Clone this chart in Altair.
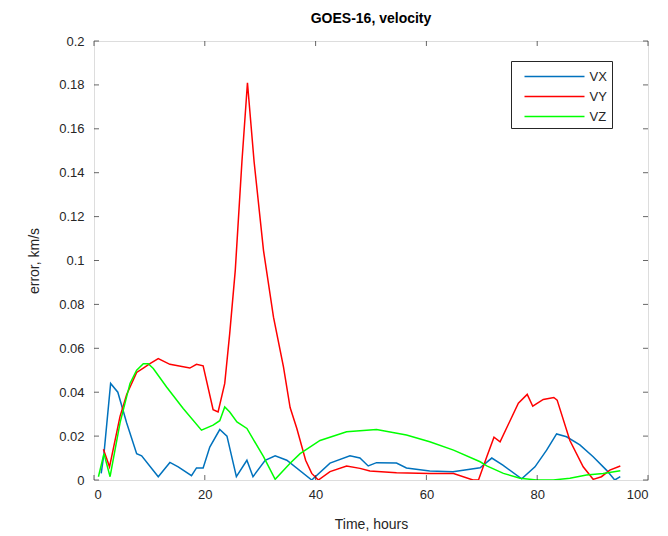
import altair as alt
import pandas as pd

# ---- data ----
vx_hours = [1.3, 1.8, 3.0, 4.3, 5.9, 7.7, 8.6, 11.6, 13.7, 15.2, 17.6, 18.5, 19.7, 20.9, 22.7, 24.0,
            25.7, 27.6, 28.7, 30.9, 32.7, 34.8, 39.3, 42.6, 46.2, 48.0, 49.5, 51.0, 54.6, 56.4,
            60.6, 64.8, 69.7, 71.8, 73.8, 77.2, 79.6, 81.7, 83.5, 85.3, 87.7, 90.1, 92.5, 94.0, 95.0]
vx_vals = [0.003, 0.012, 0.044, 0.040, 0.026, 0.012, 0.011, 0.0015, 0.008, 0.006, 0.002, 0.0055,
           0.0055, 0.015, 0.023, 0.020, 0.0015, 0.009, 0.0015, 0.009, 0.011, 0.009, 0.0, 0.0077,
           0.011, 0.010, 0.0064, 0.0079, 0.0077, 0.0055, 0.0041, 0.0038, 0.0056, 0.010, 0.0068,
           0.0005, 0.006, 0.0136, 0.021, 0.0197, 0.016, 0.0106, 0.0045, 0.0, 0.0015]

vy_hours = [1.7, 2.8, 4.7, 5.9, 7.7, 8.9, 10.1, 11.6, 13.7, 17.3, 18.5, 19.7, 21.5, 22.4, 23.6,
            24.5, 25.5, 26.7, 27.7, 28.9, 30.6, 32.4, 34.2, 35.4, 36.6, 38.2, 39.3, 40.5, 42.6,
            45.6, 48.0, 49.8, 54.6, 60.6, 64.9, 68.4, 69.4, 70.9, 72.2, 73.3, 75.1, 76.6, 78.2,
            79.2, 81.1, 83.0, 83.6, 85.9, 88.3, 90.1, 91.6, 93.1, 95.0]
vy_vals = [0.014, 0.006, 0.029, 0.039, 0.049, 0.051, 0.053, 0.0553, 0.0527, 0.051, 0.0527, 0.052,
           0.032, 0.031, 0.044, 0.0668, 0.0955, 0.145, 0.181, 0.145, 0.1045, 0.0742, 0.0515,
           0.033, 0.0236, 0.009, 0.003, 0.0, 0.0038, 0.0064, 0.0053, 0.0041, 0.0033, 0.003,
           0.003, 0.0, 0.0, 0.0106, 0.0195, 0.0174, 0.027, 0.035, 0.039, 0.0336, 0.0367, 0.0376,
           0.0364, 0.018, 0.006, 0.0003, 0.0015, 0.0045, 0.0064]

vz_hours = [0.8, 1.8, 2.9, 4.7, 6.5, 7.7, 8.9, 9.8, 10.7, 13.1, 16.1, 19.4, 21.5, 22.7, 23.6,
            24.5, 25.8, 27.6, 30.6, 32.7, 35.4, 37.2, 40.8, 45.6, 51.0, 56.4, 60.6, 64.9, 69.7,
            70.9, 73.9, 76.9, 79.9, 82.9, 85.9, 88.9, 91.9, 95.0]
vz_vals = [0.0015, 0.012, 0.0015, 0.026, 0.044, 0.050, 0.053, 0.053, 0.0508, 0.0424, 0.0326,
           0.0227, 0.025, 0.027, 0.0333, 0.031, 0.0265, 0.0235, 0.0106, 0.0003, 0.0076, 0.012,
           0.018, 0.022, 0.023, 0.0205, 0.0174, 0.0136, 0.0083, 0.0064, 0.003, 0.0008, 0.0, 0.0,
           0.0008, 0.0023, 0.003, 0.0042]

series_names = ["VX", "VY", "VZ"]
series_colors = ["#0072BD", "#FF0000", "#00FF00"]
x_ticks = [0, 20, 40, 60, 80, 100]
y_ticks = [0, 0.02, 0.04, 0.06, 0.08, 0.1, 0.12, 0.14, 0.16, 0.18, 0.2]

rows = []
for name, hs, vs in zip(series_names, [vx_hours, vy_hours, vz_hours], [vx_vals, vy_vals, vz_vals]):
    for i, (h, v) in enumerate(zip(hs, vs)):
        rows.append({"series": name, "hour": h, "err": v, "idx": i})
df = pd.DataFrame(rows)
xt = pd.DataFrame({"hour": x_ticks})
yt = pd.DataFrame({"err": y_ticks})

W, H = 554, 439
FONT = "Liberation Sans"
DARK = "#262626"

xscale = alt.Scale(domain=[0, 100], nice=False, zero=False)
yscale = alt.Scale(domain=[0, 0.2], nice=False)

xaxis = alt.Axis(values=x_ticks, format="d", ticks=False, domain=False, grid=False,
                 labelPadding=8, titlePadding=16, labelFontSize=13, titleFontSize=14,
                 labelColor=DARK, titleColor=DARK, labelFont=FONT, titleFont=FONT,
                 titleFontWeight="normal")
yaxis = alt.Axis(values=y_ticks, format="~g", ticks=False, domain=False, grid=False,
                 labelPadding=10, titlePadding=17, labelFontSize=13, titleFontSize=14,
                 labelColor=DARK, titleColor=DARK, labelFont=FONT, titleFont=FONT,
                 titleFontWeight="normal")

lines = alt.Chart(df).mark_line(strokeWidth=1.5, clip=True).encode(
    x=alt.X("hour:Q", scale=xscale, axis=xaxis, title="Time, hours"),
    y=alt.Y("err:Q", scale=yscale, axis=yaxis, title="error, km/s"),
    color=alt.Color("series:N",
                    scale=alt.Scale(domain=series_names, range=series_colors),
                    legend=alt.Legend(title=None, orient="none", legendX=417, legendY=20,
                                      strokeColor=DARK, fillColor="white", padding=4.5,
                                      symbolType="M-3,0H3", symbolSize=400,
                                      symbolStrokeWidth=1.5, symbolOffset=28,
                                      labelOffset=24, rowPadding=2,
                                      labelExpr="datum.label + '\u00a0\u00a0\u00a0'",
                                      labelFontSize=13, labelFont=FONT, labelColor=DARK)),
    order="idx:Q",
)

tick_x_bottom = alt.Chart(xt).mark_tick(size=5, thickness=1, color=DARK).encode(
    x=alt.X("hour:Q", scale=xscale, title="Time, hours"), y=alt.value(H - 2.5))
tick_x_top = alt.Chart(xt).mark_tick(size=5, thickness=1, color=DARK).encode(
    x=alt.X("hour:Q", scale=xscale, title="Time, hours"), y=alt.value(2.5))
tick_y_left = alt.Chart(yt).mark_tick(size=5, thickness=1, color=DARK).encode(
    y=alt.Y("err:Q", scale=yscale, title="error, km/s"), x=alt.value(2.5))
tick_y_right = alt.Chart(yt).mark_tick(size=5, thickness=1, color=DARK).encode(
    y=alt.Y("err:Q", scale=yscale, title="error, km/s"), x=alt.value(W - 2.5))

chart = alt.layer(lines, tick_x_bottom, tick_x_top, tick_y_left, tick_y_right).properties(
    width=W, height=H,
    title=alt.TitleParams("GOES-16, velocity", fontSize=14, font=FONT, fontWeight="bold",
                          color="black", anchor="middle", offset=9),
    autosize=alt.AutoSizeParams(type="none"),
    padding={"left": 94, "top": 41, "right": 20, "bottom": 56},
).configure_view(stroke=DARK, strokeWidth=1).configure(background="white")

chart.save("out.html", embed_options={"renderer": "svg", "actions": False})
